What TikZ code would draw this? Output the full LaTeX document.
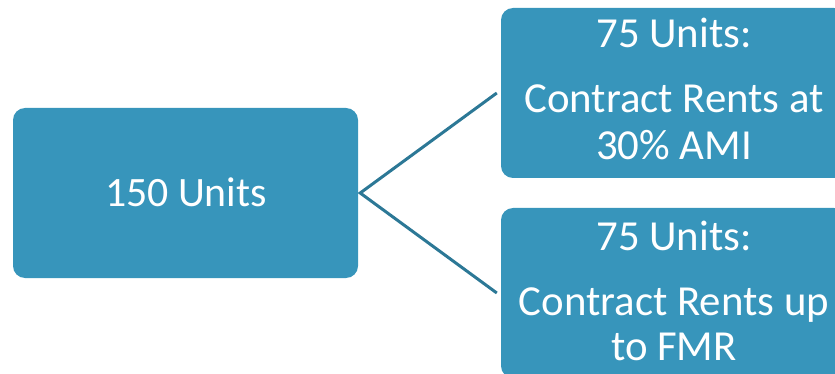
\documentclass[tikz,border=0pt]{standalone}
\usepackage{fontspec}
\setmainfont{Carlito}
\definecolor{boxblue}{HTML}{3795BB}
\definecolor{lineblue}{HTML}{2C7896}
\begin{document}
\begin{tikzpicture}[x=1pt,y=-1pt,
  unitbox/.style={draw=none,fill=boxblue,rounded corners=12pt,minimum width=345pt,minimum height=170pt,inner sep=0pt},
  lbl/.style={text=white,font=\fontsize{42.8}{49}\selectfont,anchor=base,inner sep=0pt},
  llbl/.style={text=white,font=\fontsize{41.8}{49}\selectfont,anchor=base,inner sep=0pt},
  conn/.style={draw=lineblue,line width=3pt}]
\useasboundingbox (0,0) rectangle (835,374);
\clip (0,0) rectangle (835,374);
\node[unitbox] (left) at (185.5,193) {};
\node[unitbox] (top) at (673.5,93) {};
\node[unitbox] (bot) at (673.5,293) {};
\node[llbl] (lt) at (186,207) {150 Units};
\node[lbl] (t1) at (674,48) {75 Units:};
\node[lbl] (t2) at (674,113) {Contract Rents at};
\node[lbl] (t3) at (674,160) {30\% AMI};
\node[lbl] (b1) at (674,250) {75 Units:};
\node[lbl] (b2) at (674,315) {Contract Rents up};
\node[lbl] (b3) at (674,360) {to FMR};
\coordinate (fork) at ([xshift=2pt]left.east);
\coordinate (tend) at ([xshift=-4pt]top.west);
\coordinate (bend) at ([xshift=-4pt]bot.west);
\draw[conn] (tend) -- (fork) -- (bend);
\end{tikzpicture}
\end{document}
